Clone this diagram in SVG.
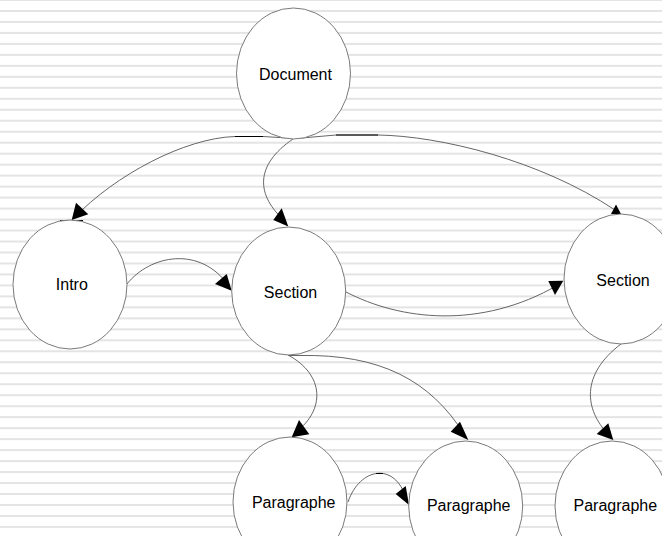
<svg xmlns="http://www.w3.org/2000/svg" width="662" height="536" viewBox="0 0 662 536">
  <defs>
    <!-- ruled-paper background -->
    <pattern id="rules" patternUnits="userSpaceOnUse" x="0" y="-1" width="662" height="10.978">
      <rect x="0" y="0" width="662" height="2" fill="#e4e4e4"/>
    </pattern>
    <style>
      .node ellipse { fill: #ffffff; stroke: #7a7a7a; stroke-width: 1; }
      .node text { font-family: "Liberation Sans", Arial, sans-serif; font-size: 16px; fill: #000000; text-anchor: middle; }
      .edge { fill: none; stroke: #555555; stroke-width: 0.9; }
      .tick { fill: none; stroke: #000000; stroke-width: 1; }
      .head { fill: #000000; stroke: none; }
    </style>
  </defs>

  <rect x="0" y="0" width="662" height="536" fill="#ffffff"/>
  <rect x="0" y="0" width="662" height="536" fill="url(#rules)"/>

  <g id="connectors">
    <!-- Document -> Intro -->
    <path class="edge" d="M296,138.5 L263,136.5 L235,136.5 C185,138 115,175 74,218"/>
    <path class="tick" d="M235,136.5 H263 M60,220.5 H83"/>
    <polygon class="head" points="71.7,220 76,202.7 88.3,214.3"/>
    <!-- Document -> Section -->
    <path class="edge" d="M293,139 C255,165 255,195 286,222"/>
    <polygon class="head" points="273.3,220 281.7,208.3 288.3,226.5"/>
    <!-- Document -> Section (right) -->
    <path class="edge" d="M296,138.5 L336,135 L378,135 C440,136 540,160 615,210"/>
    <path class="tick" d="M336,135 H378" stroke="#333333"/>
    <polygon class="head" points="611,214 621,214 616,204.5"/>
    <!-- Intro -> Section -->
    <path class="edge" d="M127,284 C150,255 200,245 229,286"/>
    <polygon class="head" points="215,284 226.7,274 231.7,290.7"/>
    <!-- Section -> Section (right) -->
    <path class="edge" d="M346,292 C400,320 480,330 558,285"/>
    <polygon class="head" points="548.3,281 563.3,280.7 555,295"/>
    <!-- Section -> Paragraphe -->
    <path class="edge" d="M288,355 C325,375 325,410 296,432"/>
    <polygon class="head" points="291.7,437.3 299,420 309.3,434.3"/>
    <!-- Section -> Paragraphe (middle) -->
    <path class="edge" d="M288,355.5 L300,355.5 C380,354 430,380 464,434"/>
    <polygon class="head" points="450.7,431.7 460,421.7 468.3,440"/>
    <!-- Section (right) -> Paragraphe (right) -->
    <path class="edge" d="M621,344 C580,375 585,410 608,434"/>
    <polygon class="head" points="596.7,434 608.3,423.3 613.3,440"/>
    <!-- Paragraphe -> Paragraphe -->
    <path class="edge" d="M348,502 C360,467 395,462 406,498"/>
    <path class="tick" d="M376,473.5 H383"/>
    <polygon class="head" points="395.7,494 405.7,486 409,505"/>
  </g>

  <g id="node-document" class="node">
    <ellipse cx="293.5" cy="73.5" rx="57" ry="65.5"/>
    <text x="295.5" y="80">Document</text>
  </g>
  <g id="node-intro" class="node">
    <ellipse cx="70" cy="284.5" rx="57" ry="64.5"/>
    <text x="71.8" y="290">Intro</text>
  </g>
  <g id="node-section-1" class="node">
    <ellipse cx="288.7" cy="291" rx="57" ry="64"/>
    <text x="290.5" y="298">Section</text>
  </g>
  <g id="node-section-2" class="node">
    <ellipse cx="621" cy="279" rx="57" ry="65"/>
    <text x="623" y="285.5">Section</text>
  </g>
  <g id="node-paragraphe-1" class="node">
    <ellipse cx="290" cy="502" rx="57" ry="65"/>
    <text x="293.7" y="507.5">Paragraphe</text>
  </g>
  <g id="node-paragraphe-2" class="node">
    <ellipse cx="465.7" cy="506" rx="57" ry="65"/>
    <text x="468.7" y="510.5">Paragraphe</text>
  </g>
  <g id="node-paragraphe-3" class="node">
    <ellipse cx="612" cy="506" rx="57" ry="65"/>
    <text x="615.3" y="510.5">Paragraphe</text>
  </g>
</svg>
